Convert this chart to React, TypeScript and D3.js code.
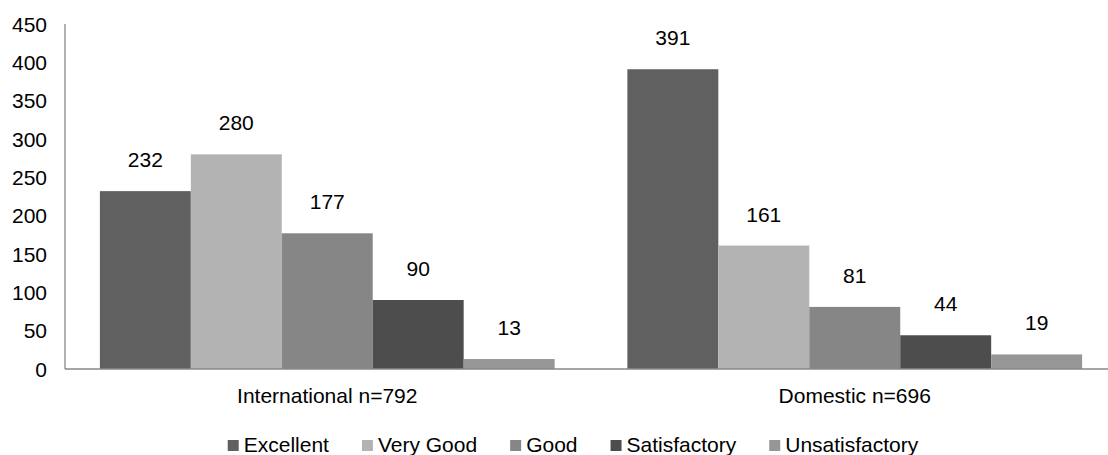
import React from 'react';
import * as d3 from 'd3';

// survey ratings, grouped by traveller type
const groups = ['International n=792', 'Domestic n=696'];
const ratings = ['Excellent', 'Very Good', 'Good', 'Satisfactory', 'Unsatisfactory'];
const international = [232, 280, 177, 90, 13];
const domestic = [391, 161, 81, 44, 19];
const yTicks = [0, 50, 100, 150, 200, 250, 300, 350, 400, 450];
const colors = ['#606060', '#b3b3b3', '#868686', '#4d4d4d', '#969696'];

const W = 1108;
const H = 455;
const FONT = 'Liberation Sans, Arial, sans-serif';
const FS = 21;

function measure(text: string) {
  const ctx = document.createElement('canvas').getContext('2d');
  if (!ctx) return text.length * FS * 0.55;
  ctx.font = `${FS}px ${FONT}`;
  return ctx.measureText(text).width;
}

export default function App() {
  const left = 65;
  const baseY = 369;
  const series = [international, domestic];

  const x0 = d3.scaleBand().domain(groups).range([left - 1.5, left + 1053.5]).paddingInner(0).paddingOuter(0);
  const inner = d3.scaleBand().domain(ratings).range([0, x0.bandwidth()]).paddingOuter(0.4);
  const y = d3.scaleLinear().domain([0, 450]).range([baseY, 24]);

  // legend layout, centred under the plot
  const sq = 11, gapText = 5, gapItem = 33;
  const widths = ratings.map((r) => sq + gapText + measure(r));
  const total = d3.sum(widths) + gapItem * (ratings.length - 1);
  let lx = 573 - total / 2;
  const legendX = widths.map((w) => {
    const p = lx;
    lx += w + gapItem;
    return p;
  });

  return (
    <svg width={W} height={H} style={{ position: 'absolute', left: 0, top: 0 }} fontFamily={FONT}>
      <rect width={W} height={H} fill="#fff" />
      {/* y axis */}
      <line x1={left} x2={left} y1={y(450)} y2={baseY} stroke="#999" strokeWidth={1.5} />
      {yTicks.map((t) => (
        <text key={t} x={47} y={y(t)} dy="0.36em" textAnchor="end" fontSize={FS} fill="#000">
          {t}
        </text>
      ))}
      {/* bars */}
      {groups.map((g, gi) => (
        <g key={g} transform={`translate(${x0(g)},0)`}>
          {ratings.map((r, ri) => {
            const v = series[gi][ri];
            const bx = inner(r) as number;
            const bw = inner.bandwidth();
            return (
              <g key={r}>
                <rect x={bx} y={y(v)} width={bw} height={baseY - y(v)} fill={colors[ri]} />
                <text x={bx + bw / 2} y={y(v) - 24} textAnchor="middle" fontSize={FS} fill="#000">
                  {v}
                </text>
              </g>
            );
          })}
          <text x={x0.bandwidth() / 2} y={403} textAnchor="middle" fontSize={FS} fill="#000">
            {g}
          </text>
        </g>
      ))}
      <line x1={left} x2={W} y1={baseY} y2={baseY} stroke="#898989" strokeWidth={1.5} />
      {/* legend */}
      {ratings.map((r, i) => (
        <g key={r} transform={`translate(${legendX[i]},0)`}>
          <rect x={0} y={440} width={sq} height={sq} fill={colors[i]} />
          <text x={sq + gapText} y={452} fontSize={FS} fill="#000">
            {r}
          </text>
        </g>
      ))}
    </svg>
  );
}
